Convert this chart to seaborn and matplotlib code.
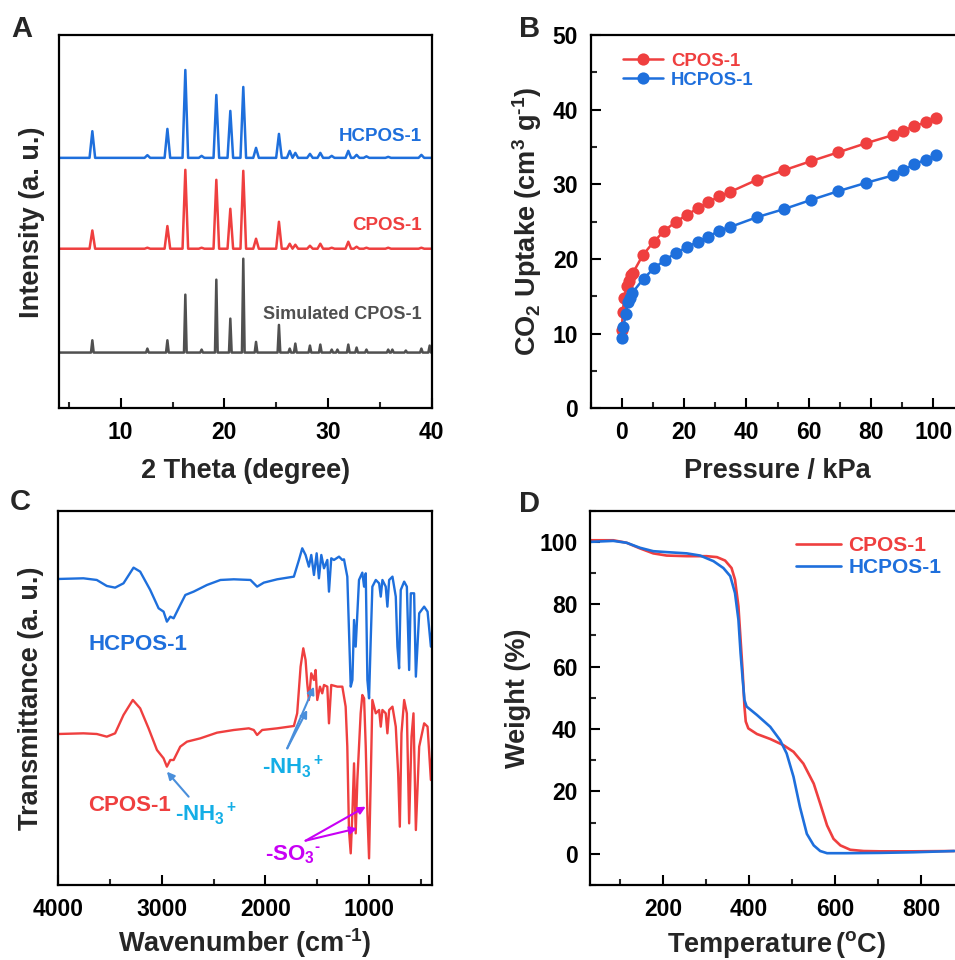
import numpy as np
import pandas as pd
import matplotlib
matplotlib.use("Agg")
import matplotlib.pyplot as plt
from matplotlib.ticker import MultipleLocator
import seaborn as sns

sns.set_style("ticks")
plt.rcParams["font.family"] = ["Liberation Sans", "DejaVu Sans"]
plt.rcParams["font.weight"] = "bold"
plt.rcParams["axes.labelweight"] = "bold"
plt.rcParams["mathtext.fontset"] = "custom"
for k in ["rm", "it", "bf", "sf"]:
    plt.rcParams["mathtext." + k] = "Liberation Sans:bold"
plt.rcParams["mathtext.default"] = "regular"

BLUE = "#1e6fdc"
RED = "#ef3f3f"
GRAY = "#505050"
CYAN = "#14aee6"
ARROW_BLUE = "#4a8fdb"
MAGENTA = "#c800f5"

# A - PXRD: peak positions (2 theta) and peak heights above the baseline (a.u.)
xrd_pos = [7.26, 12.57, 14.5, 16.23, 17.8, 19.22, 20.57, 21.82, 23.05, 25.26,
           26.3, 26.84, 28.25, 29.25, 30.35, 31.95, 32.75, 33.7, 35.8, 39.0]
xrd_hcpos = [26.7, 2.7, 29, 88, 2, 63, 47, 71, 10, 24,
             7, 5, 4, 5, 2, 7, 3, 1.5, 1, 3]
xrd_cpos = [18.3, 1, 22.7, 79, 1, 69, 40, 78, 10, 27,
            5, 4, 3, 5, 1, 7, 2, 1, 1, 1]
sim_pos = [7.26, 12.57, 14.5, 16.23, 17.8, 19.22, 20.57, 21.82, 23.05, 25.26,
           26.3, 26.84, 28.25, 29.25, 30.35, 30.9, 31.95, 32.75, 33.7, 35.8,
           36.2, 37.5, 39.0, 39.8]
sim_heights = [12.3, 4, 12.3, 58, 3, 73, 34, 94, 10.7, 27.7,
               4, 9, 7, 8, 3, 3, 8, 5, 3, 3,
               3, 2, 4, 7]
base_hcpos, base_cpos, base_sim = 251, 160, 56

# B - CO2 isotherms
p_cpos = [0.0, 0.3, 0.75, 1.6, 2.35, 2.9, 3.5, 6.7, 10.2, 13.7, 17.3, 20.9, 24.3,
          27.8, 31.2, 34.8, 43.3, 52.1, 60.6, 69.5, 78.3, 87.0, 90.4, 93.8, 97.5, 100.9]
u_cpos = [10.5, 12.9, 14.8, 16.4, 17.1, 17.9, 18.1, 20.5, 22.3, 23.8, 25.0, 25.9, 26.8,
          27.6, 28.4, 29.0, 30.6, 31.9, 33.1, 34.3, 35.5, 36.6, 37.2, 37.8, 38.3, 38.9]
p_hcpos = [0.2, 0.5, 1.3, 1.9, 2.5, 3.2, 7.0, 10.4, 13.9, 17.3, 20.9, 24.3, 27.8,
           31.2, 34.8, 43.3, 52.1, 60.6, 69.5, 78.3, 87.0, 90.4, 93.8, 97.5, 100.9]
u_hcpos = [9.5, 10.9, 12.7, 14.3, 14.8, 15.4, 17.4, 18.8, 19.9, 20.8, 21.6, 22.3, 23.0,
           23.8, 24.3, 25.6, 26.7, 27.9, 29.1, 30.2, 31.2, 31.9, 32.7, 33.3, 33.9]

# C - FTIR (wavenumber, transmittance in a.u.)
wn_hcpos = [4000, 3758, 3629, 3532, 3452, 3371, 3274, 3210, 3113, 3032, 2984, 2952,
            2919, 2887, 2823, 2774, 2694, 2565, 2435, 2306, 2145, 2081, 2016, 1887,
            1726, 1677, 1645, 1613, 1581, 1558, 1532, 1506, 1484, 1461, 1435, 1403,
            1387, 1365, 1339, 1290, 1258, 1242, 1210, 1194, 1177, 1161, 1145, 1129,
            1097, 1065, 1048, 1032, 1016, 1000, 984, 968, 935, 903, 887, 871, 839,
            823, 806, 774, 742, 726, 710, 694, 661, 635, 613, 597, 565, 548, 516,
            468, 435, 403, 387]
tr_hcpos = [918, 920, 915, 897, 892, 905, 952, 940, 885, 830, 820, 790,
            805, 800, 840, 870, 880, 900, 915, 917, 915, 895, 907, 917,
            925, 975, 1010, 990, 955, 990, 930, 995, 920, 990, 950, 975,
            880, 980, 975, 985, 975, 977, 925, 765, 595, 615, 795, 715,
            915, 937, 895, 935, 615, 560, 735, 895, 915, 905, 865, 915, 895,
            835, 915, 925, 865, 715, 650, 885, 910, 895, 645, 875, 875, 625, 815,
            835, 820, 715, 775]
wn_cpos = [4000, 3758, 3629, 3532, 3452, 3371, 3281, 3210, 3129, 3048, 2984, 2952,
           2919, 2887, 2823, 2758, 2629, 2468, 2306, 2161, 2113, 2081, 2032, 1887,
           1726, 1694, 1661, 1635, 1613, 1597, 1581, 1558, 1532, 1516, 1500, 1474,
           1452, 1435, 1403, 1387, 1365, 1306, 1258, 1226, 1210, 1194, 1177, 1161,
           1145, 1129, 1113, 1081, 1065, 1048, 1032, 1016, 1000, 984, 968, 935, 903,
           887, 871, 839, 823, 806, 774, 742, 719, 703, 687, 661, 635, 613, 590,
           571, 548, 516, 468, 435, 403, 387]
tr_cpos = [453, 455, 453, 445, 455, 510, 555, 530, 470, 405, 380, 355,
           375, 375, 415, 430, 440, 457, 465, 470, 465, 450, 465, 470,
           477, 515, 655, 710, 675, 605, 555, 635, 615, 645, 555, 595,
           575, 600, 595, 485, 600, 595, 595, 535, 415, 165, 95, 215,
           365, 155, 315, 515, 570, 560, 415, 215, 80, 315, 555, 515, 525,
           475, 525, 515, 455, 525, 535, 475, 335, 175, 455, 555, 515, 185, 445,
           515, 165, 415, 485, 475, 315, 405]

# D - TGA
t_cpos = [32, 84, 115, 146, 177, 208, 255, 301, 325, 344, 359, 367, 375, 380, 385,
          389, 392, 398, 418, 449, 480, 503, 526, 550, 565, 581, 596, 612, 635, 666,
          704, 782, 877]
w_cpos = [100.5, 100.5, 99.7, 97.9, 96.3, 95.6, 95.4, 95.4, 95.1, 94.0, 91.6, 87.9,
          79.3, 68.6, 57.9, 47.2, 42.4, 40.2, 38.4, 36.8, 34.8, 32.7, 28.9, 22.5,
          16.1, 9.1, 4.8, 2.7, 1.3, 0.9, 0.8, 0.8, 0.9]
t_hcpos = [32, 84, 115, 146, 177, 208, 255, 286, 317, 340, 356, 367, 375, 380, 385,
           389, 394, 418, 449, 472, 487, 503, 518, 534, 550, 565, 581, 627, 704, 782, 877]
w_hcpos = [100.0, 100.3, 99.7, 98.1, 97.0, 96.7, 96.3, 95.6, 93.8, 91.6, 89.0, 83.6,
           75.0, 64.3, 55.7, 49.3, 47.2, 44.5, 40.7, 36.4, 32.2, 24.7, 15.0, 6.4,
           2.7, 0.9, 0.2, 0.2, 0.3, 0.5, 0.9]


def stick_profile(pos, heights, base, half):
    xs, ys = [4.0], [base]
    for p, h in zip(pos, heights):
        xs += [p - half, p, p + half]
        ys += [base, base + h, base]
    xs.append(40.0)
    ys.append(base)
    return pd.DataFrame({"x": xs, "y": ys})


def style_axes(ax):
    for s in ax.spines.values():
        s.set_linewidth(1.6)
        s.set_color("black")
    ax.tick_params(which="major", direction="in", length=7, width=1.5,
                   labelsize=16.5, pad=9, colors="black")
    ax.tick_params(which="minor", direction="in", length=4, width=1.5)
    ax.tick_params(top=False, right=False, which="both")


fig = plt.figure(figsize=(9.55, 9.6), dpi=100)
axA = fig.add_axes([0.0613, 0.5745, 0.3908, 0.389])
axB = fig.add_axes([0.6185, 0.5745, 0.3914, 0.389])
axC = fig.add_axes([0.0611, 0.0781, 0.3915, 0.390])
axD = fig.add_axes([0.6178, 0.0781, 0.3915, 0.390])

# ---- A
for pos, hts, base, col, half in [(sim_pos, sim_heights, base_sim, GRAY, 0.13),
                                  (xrd_pos, xrd_cpos, base_cpos, RED, 0.27),
                                  (xrd_pos, xrd_hcpos, base_hcpos, BLUE, 0.27)]:
    d = stick_profile(pos, hts, base, half)
    sns.lineplot(data=d, x="x", y="y", ax=axA, color=col, lw=1.8,
                 sort=False, estimator=None)
axA.set_xlim(4, 40)
axA.set_ylim(0, 374)
axA.set_yticks([])
axA.xaxis.set_major_locator(MultipleLocator(10))
axA.xaxis.set_minor_locator(MultipleLocator(5))
axA.set_xlabel("2 Theta (degree)", fontsize=19.5, labelpad=10)
axA.set_ylabel("Intensity (a. u.)", fontsize=19.5, labelpad=10)
axA.text(39, 272, "HCPOS-1", color=BLUE, fontsize=13.5, ha="right", va="center")
axA.text(39, 183, "CPOS-1", color=RED, fontsize=13.5, ha="right", va="center")
axA.text(39, 94, "Simulated CPOS-1", color=GRAY, fontsize=13, ha="right", va="center")
style_axes(axA)

# ---- B
sns.lineplot(x=p_cpos, y=u_cpos, ax=axB, color=RED, lw=1.8, marker="o",
             markersize=8.8, markeredgewidth=0, sort=False, estimator=None, label="CPOS-1")
sns.lineplot(x=p_hcpos, y=u_hcpos, ax=axB, color=BLUE, lw=1.8, marker="o",
             markersize=8.8, markeredgewidth=0, sort=False, estimator=None, label="HCPOS-1")
axB.set_xlim(-10, 110)
axB.set_ylim(0, 50)
axB.xaxis.set_major_locator(MultipleLocator(20))
axB.xaxis.set_minor_locator(MultipleLocator(10))
axB.yaxis.set_major_locator(MultipleLocator(10))
axB.yaxis.set_minor_locator(MultipleLocator(5))
axB.set_xlabel("Pressure / kPa", fontsize=19.5, labelpad=10)
axB.set_ylabel(r"CO$_2$ Uptake (cm$^3$ g$^{\text{-}1}$)", fontsize=19.5, labelpad=6)
axB.legend(loc="upper left", bbox_to_anchor=(0.086, 0.953), frameon=False,
           borderpad=0, borderaxespad=0, fontsize=13.4, handlelength=2.15,
           handletextpad=0.45, labelspacing=0.1, labelcolor="linecolor")
style_axes(axB)

# ---- C
sns.lineplot(x=wn_hcpos, y=tr_hcpos, ax=axC, color=BLUE, lw=1.7, sort=False, estimator=None)
sns.lineplot(x=wn_cpos, y=tr_cpos, ax=axC, color=RED, lw=1.7, sort=False, estimator=None)
axC.set_xlim(4000, 390)
axC.set_ylim(0, 1123)
axC.set_yticks([])
axC.xaxis.set_major_locator(MultipleLocator(1000))
axC.xaxis.set_minor_locator(MultipleLocator(500))
axC.set_xlabel(r"Wavenumber (cm$^{\text{-}1}$)", fontsize=19.5, labelpad=4)
axC.set_ylabel("Transmittance (a. u.)", fontsize=19.5, labelpad=10)
axC.text(3713, 720, "HCPOS-1", color=BLUE, fontsize=16, va="center")
axC.text(3713, 240, "CPOS-1", color=RED, fontsize=16, va="center")
axC.text(2871, 215, "-NH$_3$$^+$", color=CYAN, fontsize=16, va="center")
axC.text(2032, 355, "-NH$_3$$^+$", color=CYAN, fontsize=16, va="center")
axC.text(2000, 90, r"-SO$_3$$^{\text{-}}$", color=MAGENTA, fontsize=16, va="center")
arr_nh = dict(arrowstyle="-|>", color=ARROW_BLUE, lw=1.5, mutation_scale=11, shrinkA=0, shrinkB=0)
arr_so = dict(arrowstyle="-|>", color=MAGENTA, lw=1.5, mutation_scale=11, shrinkA=0, shrinkB=0)
axC.annotate("", xy=(2952, 340), xytext=(2742, 265), arrowprops=arr_nh)
axC.annotate("", xy=(1597, 525), xytext=(1790, 410), arrowprops=arr_nh)
axC.annotate("", xy=(1532, 595), xytext=(1790, 410), arrowprops=arr_nh)
axC.annotate("", xy=(1032, 235), xytext=(1613, 133), arrowprops=arr_so)
axC.annotate("", xy=(1113, 170), xytext=(1613, 133), arrowprops=arr_so)
style_axes(axC)

# ---- D
sns.lineplot(x=t_cpos, y=w_cpos, ax=axD, color=RED, lw=1.9, sort=False, estimator=None, label="CPOS-1")
sns.lineplot(x=t_hcpos, y=w_hcpos, ax=axD, color=BLUE, lw=1.9, sort=False, estimator=None, label="HCPOS-1")
axD.set_xlim(30, 899)
axD.set_ylim(-10, 110)
axD.xaxis.set_major_locator(MultipleLocator(200))
axD.xaxis.set_minor_locator(MultipleLocator(100))
axD.yaxis.set_major_locator(MultipleLocator(20))
axD.yaxis.set_minor_locator(MultipleLocator(10))
axD.set_xlabel(r"Temperature$\,$($^o$C)", fontsize=19.5, labelpad=6)
axD.set_ylabel("Weight (%)", fontsize=19.5, labelpad=6)
axD.legend(loc="upper left", bbox_to_anchor=(0.551, 0.932), frameon=False,
           borderpad=0, borderaxespad=0, fontsize=15, handlelength=2.16,
           handletextpad=0.35, labelspacing=0.15, labelcolor="linecolor")
style_axes(axD)

for lab, x, y in [("A", 0.023, 0.970), ("B", 0.554, 0.970), ("C", 0.021, 0.477), ("D", 0.554, 0.475)]:
    fig.text(x, y, lab, fontsize=21, fontweight="bold", ha="center", va="center")

fig.savefig("out.png", dpi=100)
